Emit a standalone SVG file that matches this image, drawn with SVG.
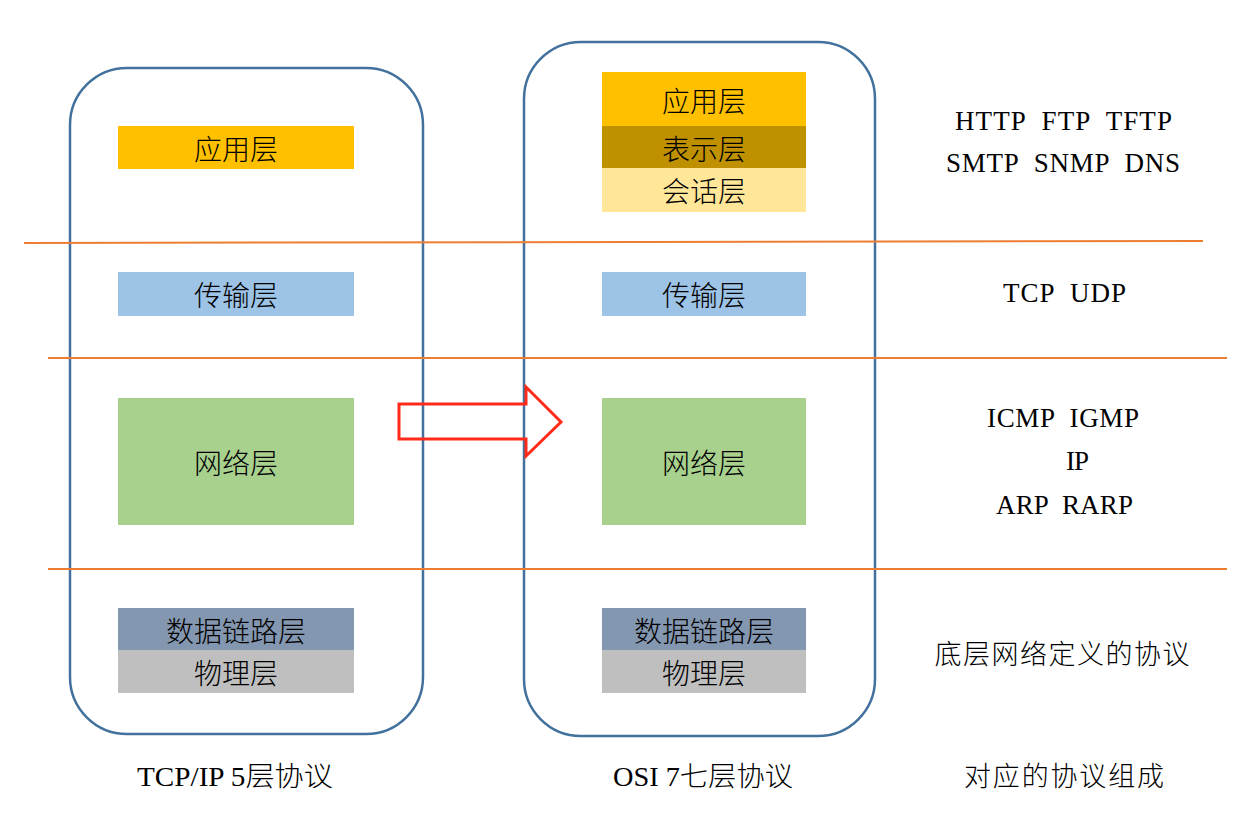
<svg xmlns="http://www.w3.org/2000/svg" width="1242" height="814" viewBox="0 0 1242 814">
<style>
.frame{fill:none;stroke:#41719C;stroke-width:2.5}
.sep{stroke:#ED7D31;stroke-width:2}
.lbl{font-family:"Noto Sans CJK SC",sans-serif;font-size:28px;fill:#000;text-anchor:middle;dominant-baseline:central;font-weight:300}
.proto{font-family:"Liberation Serif","Noto Sans CJK SC",serif;font-size:27px;fill:#000;text-anchor:middle;white-space:pre}
.cap{font-family:"Liberation Serif","Noto Sans CJK SC",serif;font-size:27px;fill:#000;text-anchor:middle;font-weight:300}
.cjk{font-family:"Noto Sans CJK SC",sans-serif;font-size:27px;fill:#000;text-anchor:middle;font-weight:300}
</style>
<rect width="1242" height="814" fill="#fff"/>
<g id="tcpip">
<rect class="frame" x="70" y="68" width="353" height="666" rx="57" ry="57"/>
<g id="tcpip-app"><rect x="118" y="126" width="236" height="43" fill="#FFC000"/><text class="lbl" x="236" y="148">应用层</text></g>
<g id="tcpip-trans"><rect x="118" y="272" width="236" height="44" fill="#9DC3E6"/><text class="lbl" x="236" y="294">传输层</text></g>
<g id="tcpip-net"><rect x="118" y="398" width="236" height="127" fill="#A9D18E"/><text class="lbl" x="236" y="462">网络层</text></g>
<g id="tcpip-link"><rect x="118" y="608" width="236" height="42" fill="#8497B0"/><text class="lbl" x="236" y="630">数据链路层</text></g>
<g id="tcpip-phy"><rect x="118" y="650" width="236" height="43" fill="#BFBFBF"/><text class="lbl" x="236" y="672">物理层</text></g>
</g>
<g id="osi">
<rect class="frame" x="524" y="42" width="351" height="694" rx="57" ry="57"/>
<g id="osi-app"><rect x="602" y="72" width="204" height="54" fill="#FFC000"/><text class="lbl" x="704" y="100">应用层</text></g>
<g id="osi-pres"><rect x="602" y="126" width="204" height="42" fill="#BF9000"/><text class="lbl" x="704" y="148">表示层</text></g>
<g id="osi-sess"><rect x="602" y="168" width="204" height="44" fill="#FFE699"/><text class="lbl" x="704" y="190">会话层</text></g>
<g id="osi-trans"><rect x="602" y="272" width="204" height="44" fill="#9DC3E6"/><text class="lbl" x="704" y="294">传输层</text></g>
<g id="osi-net"><rect x="602" y="398" width="204" height="127" fill="#A9D18E"/><text class="lbl" x="704" y="462">网络层</text></g>
<g id="osi-link"><rect x="602" y="608" width="204" height="42" fill="#8497B0"/><text class="lbl" x="704" y="630">数据链路层</text></g>
<g id="osi-phy"><rect x="602" y="650" width="204" height="43" fill="#BFBFBF"/><text class="lbl" x="704" y="672">物理层</text></g>
</g>
<g id="connectors">
<line class="sep" x1="24" y1="243" x2="1203" y2="241"/>
<line class="sep" x1="48" y1="358" x2="1227" y2="358"/>
<line class="sep" x1="48" y1="569" x2="1227" y2="569"/>
<polygon points="399,404 526,404 526,387 561,422 526,456 526,439 399,439" fill="none" stroke="#FF2A1A" stroke-width="3"/>
</g>
<g id="protocols">
<text class="proto" x="1063.5" y="130" textLength="217" lengthAdjust="spacing">HTTP  FTP  TFTP</text>
<text class="proto" x="1063" y="172" textLength="234" lengthAdjust="spacing">SMTP  SNMP  DNS</text>
<text class="proto" x="1064.5" y="302" textLength="123" lengthAdjust="spacing">TCP  UDP</text>
<text class="proto" x="1063" y="427" textLength="152" lengthAdjust="spacing">ICMP  IGMP</text>
<text class="proto" x="1077.5" y="470" textLength="23" lengthAdjust="spacing">IP</text>
<text class="proto" x="1064.5" y="514" textLength="137" lengthAdjust="spacing">ARP  RARP</text>
<text class="cjk" x="1062" y="664" textLength="255" lengthAdjust="spacing">底层网络定义的协议</text>
</g>
<g id="captions">
<text class="cap" x="235" y="786" textLength="196" lengthAdjust="spacingAndGlyphs">TCP/IP 5层协议</text>
<text class="cap" x="703" y="786" textLength="180" lengthAdjust="spacingAndGlyphs">OSI 7七层协议</text>
<text class="cjk" x="1064" y="786" textLength="200" lengthAdjust="spacing">对应的协议组成</text>
</g>
</svg>
